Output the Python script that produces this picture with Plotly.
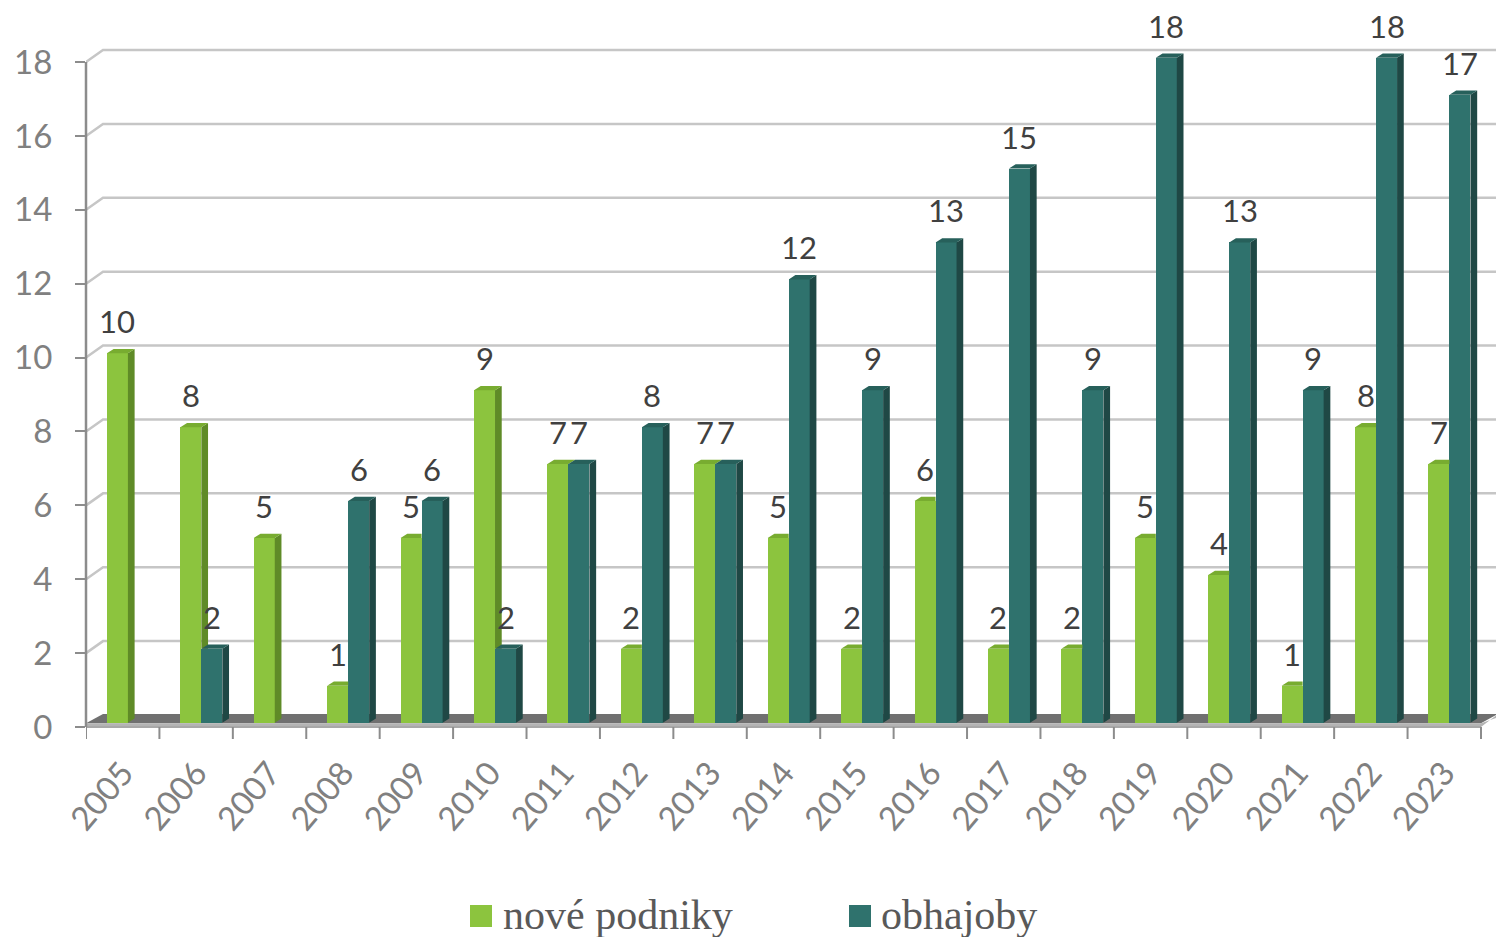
import plotly.graph_objects as go

# ---------------- data ----------------
years = [str(y) for y in range(2005, 2024)]
nove_podniky = [10, 8, 5, 1, 5, 9, 7, 2, 7, 5, 2, 6, 2, 2, 5, 4, 1, 8, 7]
obhajoby = [0, 2, 0, 6, 6, 2, 7, 8, 7, 12, 9, 13, 15, 9, 18, 13, 9, 18, 17]
y_ticks = list(range(0, 19, 2))
series_names = ["nové podniky", "obhajoby"]

# ---------------- geometry / style ----------------
W, H = 1496, 937
ML, MT, MR, MB = 86, 20, 0, 197
XU, YU = 73.42, 36.94            # px per data unit
Y0PX = 727                        # pixel row of value 0 (front)
plot_w = W - ML - MR
plot_h = H - MT - MB
x_range = [-0.5, -0.5 + plot_w / XU]
y_range = [-(H - MB - Y0PX) / YU, (Y0PX - MT) / YU]

BW = 21 / XU          # bar front width
GOFF = -0.215         # green left offset from category centre
TOFF = GOFF + BW      # teal left offset
BASE = 4.3 / YU       # bars stand slightly behind the front plane
DDX, DDY = 6.7 / XU, 4.3 / YU     # bar depth
WDX, WDY = 17 / XU, 12 / YU       # wall depth

GREEN, GREEN_SIDE, GREEN_TOP = "#8CC43E", "#5F8B27", "#78AC30"
TEAL, TEAL_SIDE, TEAL_TOP = "#2F726D", "#1F4845", "#27605B"
GRID = "#C6C6C6"
AXIS = "#8C8C8C"
FONT = "Lato"

idx = list(range(len(years)))
n = len(years)

fig = go.Figure()

# ---------------- front faces (bars) ----------------
fig.add_trace(go.Bar(
    x=idx, y=nove_podniky, base=BASE, width=BW, offset=GOFF,
    marker=dict(color=GREEN, line=dict(width=0)), name=series_names[0],
    showlegend=False, hoverinfo="skip"))
fig.add_trace(go.Bar(
    x=idx, y=[v if v > 0 else None for v in obhajoby], base=BASE, width=BW, offset=TOFF,
    marker=dict(color=TEAL, line=dict(width=0)), name=series_names[1],
    showlegend=False, hoverinfo="skip"))

# ---------------- 3D side & top faces ----------------
def add_poly(xs, ys, color):
    fig.add_trace(go.Scatter(x=xs, y=ys, mode="lines", fill="toself",
                             fillcolor=color, line=dict(width=0, color=color),
                             hoverinfo="skip", showlegend=False))

gs_x, gs_y, gt_x, gt_y = [], [], [], []
ts_x, ts_y, tt_x, tt_y = [], [], [], []
for i, (g, t) in enumerate(zip(nove_podniky, obhajoby)):
    # green
    xl = i + GOFF
    xr = xl + BW
    top = BASE + g
    if g > 0:
        low = BASE + (t if t > 0 else 0)
        if t == 0 or g > t:
            gs_x += [xr, xr, xr + DDX, xr + DDX, None]
            gs_y += [low, top, top + DDY, low + DDY if t == 0 else low, None]
        if t > g:
            gt_x += [xl, xr, xr, xl + DDX, None]
            gt_y += [top, top, top + DDY, top + DDY, None]
        else:
            gt_x += [xl, xr, xr + DDX, xl + DDX, None]
            gt_y += [top, top, top + DDY, top + DDY, None]
    # teal
    if t > 0:
        xl = i + TOFF
        xr = xl + BW
        top = BASE + t
        ts_x += [xr, xr, xr + DDX, xr + DDX, None]
        ts_y += [BASE, top, top + DDY, BASE + DDY, None]
        tt_x += [xl, xr, xr + DDX, xl + DDX, None]
        tt_y += [top, top, top + DDY, top + DDY, None]

add_poly(gs_x, gs_y, GREEN_SIDE)
add_poly(gt_x, gt_y, GREEN_TOP)
add_poly(ts_x, ts_y, TEAL_SIDE)
add_poly(tt_x, tt_y, TEAL_TOP)

# ---------------- walls, floor, grid ----------------
shapes = []
x_front_end = n - 0.5
x_back_end = x_range[1]
for v in y_ticks[1:]:
    shapes.append(dict(
        type="path", xref="x", yref="y", layer="below",
        path=f"M {-0.5} {v} L {-0.5 + WDX} {v + WDY} L {x_back_end} {v + WDY}",
        line=dict(color=GRID, width=2.5)))
# floor top (dark)
shapes.append(dict(
    type="path", xref="x", yref="y", layer="below",
    path=(f"M {-0.5} {BASE * 0.9} L {x_front_end} {BASE * 0.9} "
          f"L {x_front_end + WDX} {WDY * 1.08} L {-0.5 + WDX} {WDY * 1.08} Z"),
    fillcolor="#707070", line=dict(width=0)))
# floor front edge (light)
shapes.append(dict(
    type="path", xref="x", yref="y", layer="below",
    path=(f"M {-0.5} 0 L {x_front_end} 0 L {x_front_end + WDX} {WDY * 1.08} "
          f"L {x_front_end + WDX} {WDY * 0.8} L {x_front_end} {BASE * 0.9} L {-0.5} {BASE * 0.9} Z"),
    fillcolor="#B4B4B4", line=dict(width=0)))
shapes.append(dict(type="line", xref="x", yref="y", x0=-0.5, x1=x_front_end, y0=0, y1=0,
                   line=dict(color="#A8A8A8", width=2)))
# y axis line
shapes.append(dict(type="line", xref="paper", yref="y", x0=0, x1=0, y0=0, y1=y_ticks[-1],
                   line=dict(color=AXIS, width=2.5)))
# x tick marks on category boundaries
for b in range(n + 1):
    shapes.append(dict(type="line", xref="x", yref="y", x0=b - 0.5, x1=b - 0.5,
                       y0=0, y1=-12 / YU, line=dict(color=AXIS, width=2)))

# ---------------- data labels ----------------
annotations = []
for i, (g, t) in enumerate(zip(nove_podniky, obhajoby)):
    for v, off in ((g, GOFF), (t, TOFF)):
        if v > 0:
            annotations.append(dict(
                x=i + off + BW / 2, y=BASE + v, xref="x", yref="y",
                text=str(v), showarrow=False, yanchor="middle", yshift=32,
                font=dict(family=FONT, size=31, color="#404040")))

# ---------------- legend (manual) ----------------
def px_x(p):
    return (p - ML) / plot_w

def px_y(p):
    return (H - MB - p) / plot_h

legend_items = [(470, 501, GREEN, series_names[0]), (849, 879, TEAL, series_names[1])]
for sq_x, tx, col, name in legend_items:
    shapes.append(dict(type="rect", xref="paper", yref="paper",
                       x0=px_x(sq_x), x1=px_x(sq_x + 22), y0=px_y(927), y1=px_y(905),
                       fillcolor=col, line=dict(width=0)))
    annotations.append(dict(x=px_x(tx), y=px_y(915), xref="paper", yref="paper",
                            text=name, showarrow=False, xanchor="left", yanchor="middle",
                            font=dict(family="Liberation Serif", size=42, color="#595959")))

fig.update_layout(
    width=W, height=H,
    margin=dict(l=ML, r=MR, t=MT, b=MB),
    paper_bgcolor="white", plot_bgcolor="white",
    barmode="overlay", bargap=0,
    showlegend=False,
    shapes=shapes, annotations=annotations,
    xaxis=dict(range=x_range, tickvals=idx, ticktext=years, tickangle=-50,
               showgrid=False, zeroline=False, showline=False, ticks="",
               tickfont=dict(family=FONT, size=33, color="#808080"),
               ticklabelstandoff=6, fixedrange=True),
    yaxis=dict(range=y_range, tickvals=y_ticks, showgrid=False, zeroline=False,
               showline=False, ticks="outside", ticklen=10, tickwidth=2, tickcolor=AXIS,
               tickfont=dict(family=FONT, size=33, color="#808080"),
               ticklabelstandoff=16, fixedrange=True),
)

fig.write_html("out.html", config={"displayModeBar": False},
               post_script="document.body.style.margin='0';")
